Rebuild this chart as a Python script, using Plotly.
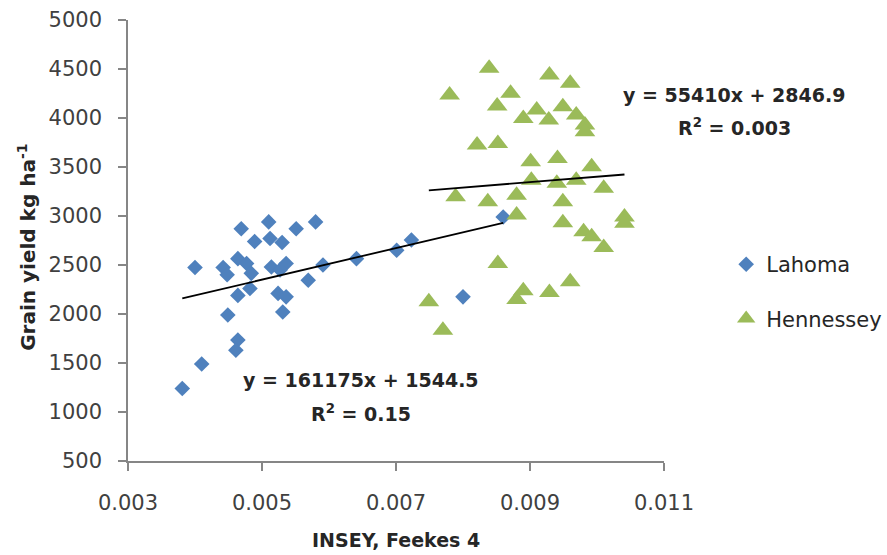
import numpy as np
import plotly.graph_objects as go

# ---- data ----
lahoma_x = [0.00469, 0.00510, 0.00551, 0.00580, 0.00489, 0.00512, 0.00530, 0.00400,
            0.00442, 0.00464, 0.00448, 0.00477, 0.00484, 0.00514, 0.00536, 0.00527,
            0.00591, 0.00641, 0.00569, 0.00464, 0.00482, 0.00524, 0.00536, 0.00531,
            0.00449, 0.00464, 0.00461, 0.00410, 0.00381, 0.00701, 0.00723, 0.00860,
            0.00800]
lahoma_y = [2870, 2940, 2870, 2940, 2740, 2770, 2730, 2475,
            2475, 2565, 2400, 2515, 2415, 2480, 2515, 2450,
            2500, 2565, 2345, 2190, 2260, 2210, 2175, 2020,
            1990, 1735, 1630, 1490, 1240, 2650, 2755, 2990,
            2175]

henn_x = [0.00839, 0.00780, 0.00929, 0.00960, 0.00871, 0.00851, 0.00890, 0.00910,
          0.00928, 0.00949, 0.00969, 0.00982, 0.00982, 0.00821, 0.00852, 0.00901,
          0.00941, 0.00992, 0.00902, 0.00940, 0.00969, 0.00789, 0.00837, 0.00880,
          0.01010, 0.00949, 0.00880, 0.00949, 0.01041, 0.01041, 0.00980, 0.00992,
          0.01010, 0.00852, 0.00960, 0.00929, 0.00890, 0.00880, 0.00749, 0.00770]
henn_y = [4507, 4234, 4438, 4354, 4252, 4122, 3996, 4081,
          3979, 4115, 4030, 3928, 3860, 3724, 3741, 3553,
          3588, 3502, 3366, 3333, 3366, 3196, 3145, 3213,
          3282, 3145, 3009, 2930, 2990, 2925, 2839, 2788,
          2679, 2516, 2328, 2220, 2236, 2148, 2124, 1835]

series_names = ["Lahoma", "Hennessey"]
trend_slope = [161175, 55410]
trend_intercept = [1544.5, 2846.9]
trend_eq = ["y = 161175x + 1544.5", "y = 55410x + 2846.9"]
trend_r2 = ["R<sup>2</sup> = 0.15", "R<sup>2</sup> = 0.003"]

x_ticks = [0.003, 0.005, 0.007, 0.009, 0.011]
y_ticks = [500, 1000, 1500, 2000, 2500, 3000, 3500, 4000, 4500, 5000]

BLUE = "#4F81BD"
GREEN = "#9BBB59"
AXIS = "#868686"
TXT = "#404040"
FONT = "DejaVu Sans"

fig = go.Figure()

fig.add_trace(go.Scatter(x=lahoma_x, y=lahoma_y, mode="markers", name=series_names[0],
                         legendgroup="a",
                         marker=dict(symbol="diamond", size=12, color=BLUE)))
fig.add_trace(go.Scatter(x=henn_x, y=henn_y, mode="markers", name=series_names[1],
                         legendgroup="b",
                         marker=dict(symbol="triangle-up", size=18, color=GREEN)))

for xs, m, b in [(lahoma_x, trend_slope[0], trend_intercept[0]),
                 (henn_x, trend_slope[1], trend_intercept[1])]:
    lx = np.array([min(xs), max(xs)])
    fig.add_trace(go.Scatter(x=lx, y=m * lx + b, mode="lines", showlegend=False,
                             line=dict(color="black", width=1.8), hoverinfo="skip"))

ann = []
eq_pos = [(0.4344, 0.1831, 0.1082), (1.1307, 0.8298, 0.7572)]
for (px, py1, py2), eq, r2 in zip(eq_pos, trend_eq, trend_r2):
    ann.append(dict(x=px, y=py1, xref="paper", yref="paper", text="<b>%s</b>" % eq,
                    showarrow=False, xanchor="center", yanchor="middle",
                    font=dict(family=FONT, size=19, color="#262626")))
    ann.append(dict(x=px, y=py2, xref="paper", yref="paper", text="<b>%s</b>" % r2,
                    showarrow=False, xanchor="center", yanchor="middle",
                    font=dict(family=FONT, size=19, color="#262626")))

ann.append(dict(x=0.5, y=-0.18, xref="paper", yref="paper", text="<b>INSEY, Feekes 4</b>",
                showarrow=False, xanchor="center", yanchor="middle",
                font=dict(family=FONT, size=19, color="#262626")))
ann.append(dict(x=-0.189, y=0.485, xref="paper", yref="paper",
                text="<b>Grain yield kg ha<sup>-1</sup></b>", textangle=-90,
                showarrow=False, xanchor="center", yanchor="middle",
                font=dict(family=FONT, size=20, color="#262626")))

fig.update_layout(
    width=887, height=555,
    margin=dict(l=128, r=223, t=20, b=94, autoexpand=False),
    paper_bgcolor="white", plot_bgcolor="white",
    font=dict(family=FONT, size=19, color=TXT),
    annotations=ann,
    legend=dict(x=1.116, y=0.492, xanchor="left", yanchor="top",
                tracegroupgap=24, traceorder="grouped",
                font=dict(family=FONT, size=21, color="#262626")),
    xaxis=dict(range=[0.003, 0.011], tickvals=x_ticks, ticktext=["%.3f" % v for v in x_ticks],
               showline=True, linecolor=AXIS, linewidth=1.5, ticks="outside", ticklen=8,
               tickcolor=AXIS, tickwidth=1.5, showgrid=False, zeroline=False,
               ticklabelstandoff=14, tickfont=dict(size=21, color=TXT)),
    yaxis=dict(range=[500, 5000], tickvals=y_ticks, showline=True, linecolor=AXIS,
               linewidth=1.5, ticks="outside", ticklen=8, tickcolor=AXIS, tickwidth=1.5,
               showgrid=False, zeroline=False, ticklabelstandoff=12,
               tickfont=dict(size=21, color=TXT)),
)

fig.write_html("out.html")
